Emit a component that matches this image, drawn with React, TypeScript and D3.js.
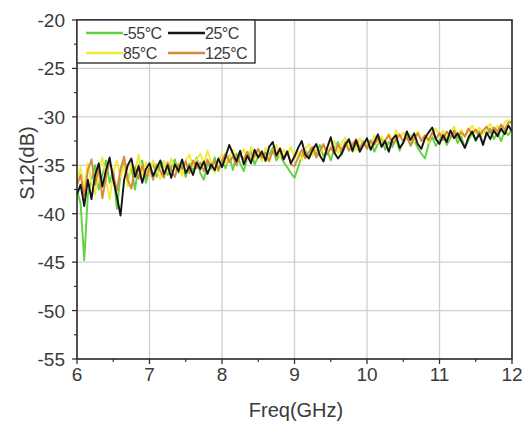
import React from "react";
import * as d3 from "d3";

const freqs: number[] = d3.range(0, 121).map((i) => 6 + i * 0.05);

const seriesNames = ["-55°C", "25°C", "85°C", "125°C"];
const seriesColors = ["#5fd43c", "#151515", "#f2ea3a", "#d8893a"];

const green = [
  -37.5, -39, -44.8, -38, -36.5, -35, -37.5, -36, -34.5, -36.8, -35.5, -39.5, -36, -34.8, -36.5, -35.2, -37.5, -35, -34.5, -36.8,
  -35.5, -34.8, -36.2, -35, -34.6, -36, -35.2, -34.4, -35.8, -35, -36.2, -34.8, -35.5, -34.2, -35.8, -36.5, -34.8, -35.4, -34.2, -35.6,
  -34.6, -35.3, -34, -35.5, -33.8, -34.8, -35.6, -34.2, -33.6, -34.9, -34.1, -33.5, -34.6, -33.9, -33.2, -34.5, -33.8, -34.7, -35.2, -35.8,
  -36.3, -35.2, -34, -33.5, -34.2, -33.1, -33.8, -32.9, -34.1, -33.4, -34.5, -33.2, -32.6, -33.9, -33, -32.4, -33.6, -32.8, -33.5, -32.5,
  -33.2, -32.4, -33.6, -32.8, -32.1, -33.4, -32.6, -33.1, -32.3, -33.5, -32.5, -31.9, -33, -32.4, -33.2, -33.8, -34.3, -32.8, -32.1, -33,
  -32.4, -31.8, -32.9, -32.2, -31.6, -32.7, -32, -33.2, -32.4, -31.7, -32.5, -31.5, -32.8, -31.9, -31.2, -32.3, -31.6, -32.5, -31.4, -31.9, -31.2,
];

const black = [
  -38, -37, -39.2, -36.5, -38.5, -36, -34.8, -37.2, -35.5, -34.2, -36.5, -38.2, -40.2, -36.5, -35, -34.3, -36.2, -35.1, -36.8, -35.4,
  -34.8, -36.1, -35.3, -34.5, -35.9, -35, -36.3, -34.9, -35.6, -34.4, -35.8, -35.1, -36, -34.7, -35.4, -34.6, -35.9, -34.9, -35.5, -34.3,
  -35.2, -34.1, -32.9, -33.8, -34.6, -33.5, -34.9, -34, -34.8, -33.4, -34.2, -33.6, -34.5, -33.1, -32.6, -34, -33.3, -34.4, -33.6, -34.8,
  -34.1, -33.2, -32.5, -33.9, -34.3, -33.4, -32.8, -34, -34.6, -33.2, -32.1, -33.7, -34.3, -33.8, -32.9, -32.3, -33.5, -32.4, -33.6, -32.9,
  -32.2, -33.4, -32.6, -31.8, -33.1, -32.5, -33.6, -32.3, -31.9, -33.2, -32.7, -31.5, -32.4, -31.7, -32.8, -33.3, -32.2, -31.6, -31.1, -32.3,
  -32.8, -31.9, -32.6, -31.4, -32.2, -31.7, -32.5, -33.2, -32.1, -31.5, -32.4, -31.8, -32.9, -31.6, -32.3, -31.4, -32, -31.2, -31.8, -30.9, -31.5,
];

const yellow = [
  -36.5, -35.2, -37.5, -34.8, -36.8, -38, -35.5, -34.2, -36.5, -38.5, -35.8, -34.5, -36.2, -35, -37.2, -34.8, -35.6, -33.9, -36, -34.7,
  -35.9, -34.5, -35.4, -36.4, -34.6, -35.7, -34.3, -35.5, -34.8, -36.1, -34.5, -33.9, -35.2, -34.4, -33.8, -34.9, -33.5, -34.6, -35.8, -34.5,
  -33.8, -34.9, -34.2, -33.4, -34.6, -34, -33.3, -34.5, -33.1, -34.3, -33.7, -34.6, -33.2, -34.4, -33.6, -32.9, -34.2, -33.4, -34, -33.1,
  -34.3, -33.6, -34.5, -33.3, -32.8, -34, -33.4, -33.9, -32.9, -33.7, -33.1, -32.5, -33.8, -32.7, -32.1, -33.3, -32.6, -33.5, -32.2, -32.9,
  -32.4, -33.1, -31.9, -32.7, -32, -32.8, -31.7, -32.5, -31.4, -32.2, -31.6, -32.4, -31.8, -32.6, -31.5, -32.3, -31.9, -32.7, -31.6, -31.2,
  -32, -31.4, -32.2, -31.6, -31, -31.9, -31.3, -32.1, -31.5, -30.9, -31.7, -31.1, -31.8, -31.2, -30.7, -31.5, -30.9, -31.6, -30.6, -30.3, -30.8,
];

const orange = [
  -37, -36, -38.2, -35.5, -34.4, -37, -35.2, -38.4, -36.2, -34.6, -35.9, -37.6, -35.4, -34.1, -36.5, -37.4, -35.2, -36.4, -35, -36.2,
  -35.3, -36.5, -34.9, -35.6, -36.3, -34.7, -35.5, -36.2, -34.9, -35.4, -34.6, -35.8, -34.5, -35.3, -34.7, -35.6, -34.4, -35.2, -34.6, -35.4,
  -34.5, -33.8, -34.7, -34.1, -35, -33.9, -34.4, -33.6, -34.5, -34, -33.3, -34.2, -33.7, -34.6, -33.5, -34.1, -33.2, -34.3, -33.5, -34.9,
  -35.1, -34.2, -33.4, -34.3, -33.6, -33.1, -34.2, -33.5, -32.8, -33.9, -33.2, -33.8, -32.9, -33.4, -32.6, -33.5, -32.9, -32.3, -33.2, -32.6,
  -33.3, -32.5, -32.9, -32.2, -33, -32.4, -31.9, -32.8, -32.3, -31.8, -32.6, -32.1, -32.9, -32.2, -31.7, -32.5, -31.9, -32.4, -31.6, -32.3,
  -31.7, -32.4, -31.5, -32.1, -31.4, -32.2, -31.6, -32, -31.2, -31.8, -31.3, -32, -31.4, -31, -31.7, -31.1, -31.5, -30.8, -31.3, -30.6, -30.5,
];

const series = [green, black, yellow, orange];
const xTicks = [6, 7, 8, 9, 10, 11, 12];
const yTicks = [-20, -25, -30, -35, -40, -45, -50, -55];

const W = 524;
const H = 421;
const L = 77, R = 512, T = 20, B = 359;

export default function App() {
  const x = d3.scaleLinear().domain([6, 12]).range([L, R]);
  const y = d3.scaleLinear().domain([-55, -20]).range([B, T]);
  const line = d3
    .line<number>()
    .x((_, i) => x(freqs[i]))
    .y((d) => y(d));
  const font = "'Liberation Sans', Arial, sans-serif";
  const xMinor = d3.range(6.5, 12, 1);
  const yMinor = d3.range(-52.5, -20, 5);
  const drawOrder = [0, 2, 3, 1];
  return (
    <svg width={W} height={H} style={{ position: "absolute", left: 0, top: 0, background: "#fff" }} fontFamily={font}>
      <rect x={0} y={0} width={W} height={H} fill="#fff" />
      {xTicks.slice(1, -1).map((t) => (
        <line key={"gx" + t} x1={x(t)} x2={x(t)} y1={T} y2={B} stroke="#cfcfcf" strokeWidth={1.3} />
      ))}
      {yTicks.slice(1, -1).map((t) => (
        <line key={"gy" + t} x1={L} x2={R} y1={y(t)} y2={y(t)} stroke="#cfcfcf" strokeWidth={1.3} />
      ))}
      <defs>
        <clipPath id="plot">
          <rect x={L} y={T} width={R - L} height={B - T} />
        </clipPath>
      </defs>
      <g clipPath="url(#plot)">
        {drawOrder.map((k) => (
          <path key={k} d={line(series[k]) || ""} fill="none" stroke={seriesColors[k]} strokeWidth={1.9} strokeLinejoin="round" />
        ))}
      </g>
      <rect x={L} y={T} width={R - L} height={B - T} fill="none" stroke="#333" strokeWidth={1.7} />
      {xTicks.map((t) => (
        <g key={"xt" + t}>
          <line x1={x(t)} x2={x(t)} y1={B} y2={B + 5} stroke="#333" strokeWidth={1.3} />
          <text x={x(t)} y={381} textAnchor="middle" fontSize={19} fill="#3a3a3a">{t}</text>
        </g>
      ))}
      {xMinor.map((t) => (
        <line key={"xm" + t} x1={x(t)} x2={x(t)} y1={B} y2={B + 3} stroke="#333" strokeWidth={1.2} />
      ))}
      {yTicks.map((t) => (
        <g key={"yt" + t}>
          <line x1={L - 5} x2={L} y1={y(t)} y2={y(t)} stroke="#333" strokeWidth={1.3} />
          <text x={65} y={y(t) + 7} textAnchor="end" fontSize={19} fill="#3a3a3a">{t}</text>
        </g>
      ))}
      {yMinor.map((t) => (
        <line key={"ym" + t} x1={L - 3} x2={L} y1={y(t)} y2={y(t)} stroke="#333" strokeWidth={1.2} />
      ))}
      <text x={296} y={417} textAnchor="middle" fontSize={20} fill="#3a3a3a">Freq(GHz)</text>
      <text transform={`translate(34,${163}) rotate(-90)`} textAnchor="middle" fontSize={20} fill="#3a3a3a">S12(dB)</text>
      <rect x={L} y={T} width={178} height={43} fill="#fff" stroke="#333" strokeWidth={1.4} />
      {seriesNames.map((n, k) => {
        const col = k % 2;
        const row = Math.floor(k / 2);
        const lx = col === 0 ? 86 : 168;
        const ly = 33 + row * 20;
        return (
          <g key={n}>
            <line x1={lx} x2={lx + 37} y1={ly} y2={ly} stroke={seriesColors[k]} strokeWidth={2.4} />
            <text x={lx + 37} y={ly + 5.5} fontSize={16} fill="#3a3a3a" letterSpacing={-0.5}>{n}</text>
          </g>
        );
      })}
    </svg>
  );
}
